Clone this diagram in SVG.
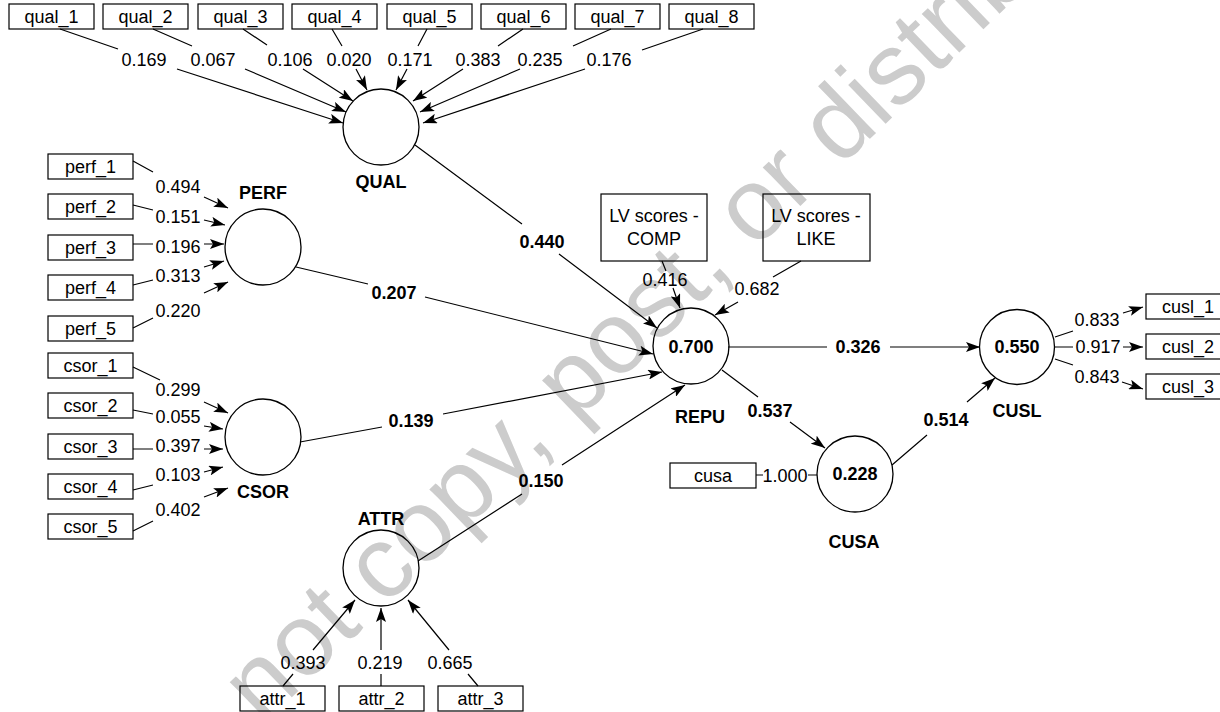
<svg xmlns="http://www.w3.org/2000/svg" width="1220" height="712" viewBox="0 0 1220 712">
<style>
.t{font-family:"Liberation Sans",Arial,Helvetica,sans-serif;font-size:18px;fill:#000;text-anchor:middle}
.b{font-weight:bold}
.box{fill:none;stroke:#000;stroke-width:1.2}
.lv{fill:none;stroke:#000;stroke-width:1.3}
.c{fill:none;stroke:#000;stroke-width:1.2}
.a{marker-end:url(#ah)}
.wm{font-family:"Liberation Sans",Arial,Helvetica,sans-serif;font-size:102px;fill:#cccccc}
</style>
<defs>
<marker id="ah" markerUnits="userSpaceOnUse" markerWidth="14" markerHeight="10" refX="14" refY="5" orient="auto" viewBox="0 0 14 10"><path d="M0,0 L14,5 L0,10 L3,5 z" fill="#000"/></marker>
</defs>
<rect width="1220" height="712" fill="#fff"/>
<text class="wm" transform="translate(148,836) rotate(-44)">Do not copy, post, or distribute</text>

<g id="connectors">
<path class="c a" d="M60,29 L118,49 M177,69 L343,123"/>
<path class="c a" d="M153,29 L192,46 M245,69 L346,112"/>
<path class="c a" d="M243,29 L267,45 M303,69 L353,101"/>
<path class="c a" d="M332,29 L342,46 M356,69 L367,90"/>
<path class="c a" d="M427,29 L418,46 M407,69 L396,90"/>
<path class="c a" d="M523,29 L498,46 M463,69 L413,101"/>
<path class="c a" d="M611,29 L573,46 M520,69 L420,112"/>
<path class="c a" d="M703,29 L642,50 M585,69 L423,123"/>

<path class="c a" d="M133,161 L153,172 M204,197 L228,208"/>
<path class="c a" d="M133,205 L153,210 M204,220 L225,225"/>
<path class="c a" d="M133,244 L153,244 M204,244 L224,244"/>
<path class="c a" d="M133,285 L153,280 M204,267 L224,261"/>
<path class="c a" d="M133,328 L153,318 M204,293 L228,282"/>

<path class="c a" d="M133,367 L160,380 M204,402 L228,413"/>
<path class="c a" d="M133,410 L153,414 M204,426 L223,429"/>
<path class="c a" d="M133,449 L153,449 M204,449 L223,449"/>
<path class="c a" d="M133,490 L153,485 M204,472 L223,467"/>
<path class="c a" d="M133,531 L153,521 M204,497 L228,488"/>

<path class="c a" d="M283,686 L293,674 M313,650 L355,600"/>
<path class="c a" d="M381,686 L381,674 M381,650 L381,608"/>
<path class="c a" d="M478,686 L468,674 M449,650 L408,600"/>

<path class="c a" d="M415,145 L522,224 M559,254 L657,328"/>
<path class="c a" d="M296,267 L368,284 M425,297 L653,354"/>
<path class="c a" d="M300,442 L382,427 M443,414 L662,372"/>
<path class="c a" d="M418,561 L522,494 M562,465 L685,385"/>

<path class="c a" d="M662,261 L666,271 M673,288 L680,308"/>
<path class="c a" d="M801,261 L773,277 M738,302 L715,315"/>

<path class="c a" d="M728,347 L827,347 M890,347 L980,347"/>
<path class="c a" d="M722,370 L758,397 M790,422 L825,448"/>
<path class="c a" d="M892,465 L927,435 M967,402 L995,378"/>
<path class="c" d="M756,475 L763,475 M808,475 L817,475"/>

<path class="c a" d="M1055,337 L1073,331 M1123,313 L1143,307"/>
<path class="c a" d="M1055,347 L1073,347 M1123,347 L1143,347"/>
<path class="c a" d="M1055,359 L1073,365 M1122,382 L1143,389"/>

<g class="t">
<text x="144" y="66">0.169</text>
<text x="213" y="66">0.067</text>
<text x="290" y="66">0.106</text>
<text x="349" y="66">0.020</text>
<text x="410" y="66">0.171</text>
<text x="478" y="66">0.383</text>
<text x="540" y="66">0.235</text>
<text x="609" y="66">0.176</text>

<text x="178" y="193">0.494</text>
<text x="178" y="223">0.151</text>
<text x="178" y="253">0.196</text>
<text x="178" y="282">0.313</text>
<text x="178" y="317">0.220</text>

<text x="178" y="396">0.299</text>
<text x="178" y="423">0.055</text>
<text x="178" y="452">0.397</text>
<text x="178" y="481">0.103</text>
<text x="178" y="516">0.402</text>

<text x="303" y="669">0.393</text>
<text x="380" y="669">0.219</text>
<text x="450" y="669">0.665</text>

<text x="665" y="286">0.416</text>
<text x="757" y="295">0.682</text>

<text x="1097" y="326">0.833</text>
<text x="1098" y="353">0.917</text>
<text x="1097" y="383">0.843</text>

<text x="785" y="482">1.000</text>
</g>
<g class="t b">
<text x="542" y="248">0.440</text>
<text x="394" y="299">0.207</text>
<text x="411" y="427">0.139</text>
<text x="541" y="487">0.150</text>
<text x="858" y="353">0.326</text>
<text x="770" y="417">0.537</text>
<text x="946" y="426">0.514</text>
</g>
</g>

<g id="QUAL"><circle class="lv" cx="381" cy="127" r="38"/><text class="t b" x="381" y="188">QUAL</text></g>
<g id="PERF"><circle class="lv" cx="263" cy="247" r="38"/><text class="t b" x="263" y="199">PERF</text></g>
<g id="CSOR"><circle class="lv" cx="263" cy="437" r="38"/><text class="t b" x="263" y="498">CSOR</text></g>
<g id="ATTR"><circle class="lv" cx="381" cy="568" r="38"/><text class="t b" x="381" y="525">ATTR</text></g>
<g id="REPU"><circle class="lv" cx="691" cy="346" r="38"/><text class="t b" x="691" y="353">0.700</text><text class="t b" x="700" y="423">REPU</text></g>
<g id="CUSL"><circle class="lv" cx="1017" cy="347" r="37.5"/><text class="t b" x="1017" y="353">0.550</text><text class="t b" x="1017" y="417">CUSL</text></g>
<g id="CUSA"><circle class="lv" cx="855" cy="474" r="38"/><text class="t b" x="855" y="480">0.228</text><text class="t b" x="854" y="548">CUSA</text></g>

<g id="qual_1"><rect class="box" x="9" y="4" width="85" height="25"/><text class="t" x="51.5" y="23">qual_1</text></g>
<g id="qual_2"><rect class="box" x="103" y="4" width="85" height="25"/><text class="t" x="145.5" y="23">qual_2</text></g>
<g id="qual_3"><rect class="box" x="198" y="4" width="85" height="25"/><text class="t" x="240.5" y="23">qual_3</text></g>
<g id="qual_4"><rect class="box" x="292" y="4" width="85" height="25"/><text class="t" x="334.5" y="23">qual_4</text></g>
<g id="qual_5"><rect class="box" x="387" y="4" width="85" height="25"/><text class="t" x="429.5" y="23">qual_5</text></g>
<g id="qual_6"><rect class="box" x="481" y="4" width="85" height="25"/><text class="t" x="523.5" y="23">qual_6</text></g>
<g id="qual_7"><rect class="box" x="575" y="4" width="85" height="25"/><text class="t" x="617.5" y="23">qual_7</text></g>
<g id="qual_8"><rect class="box" x="669" y="4" width="85" height="25"/><text class="t" x="711.5" y="23">qual_8</text></g>

<g id="perf_1"><rect class="box" x="48" y="154" width="85" height="25"/><text class="t" x="90.5" y="173">perf_1</text></g>
<g id="perf_2"><rect class="box" x="48" y="194" width="85" height="25"/><text class="t" x="90.5" y="213">perf_2</text></g>
<g id="perf_3"><rect class="box" x="48" y="235" width="85" height="25"/><text class="t" x="90.5" y="254">perf_3</text></g>
<g id="perf_4"><rect class="box" x="48" y="275" width="85" height="25"/><text class="t" x="90.5" y="294">perf_4</text></g>
<g id="perf_5"><rect class="box" x="48" y="316" width="85" height="25"/><text class="t" x="90.5" y="335">perf_5</text></g>

<g id="csor_1"><rect class="box" x="48" y="353" width="85" height="25"/><text class="t" x="90.5" y="372">csor_1</text></g>
<g id="csor_2"><rect class="box" x="48" y="393" width="85" height="25"/><text class="t" x="90.5" y="412">csor_2</text></g>
<g id="csor_3"><rect class="box" x="48" y="434" width="85" height="25"/><text class="t" x="90.5" y="453">csor_3</text></g>
<g id="csor_4"><rect class="box" x="48" y="474" width="85" height="25"/><text class="t" x="90.5" y="493">csor_4</text></g>
<g id="csor_5"><rect class="box" x="48" y="514" width="85" height="25"/><text class="t" x="90.5" y="533">csor_5</text></g>

<g id="attr_1"><rect class="box" x="240" y="686" width="85" height="25"/><text class="t" x="282.5" y="705">attr_1</text></g>
<g id="attr_2"><rect class="box" x="339" y="686" width="85" height="25"/><text class="t" x="381.5" y="705">attr_2</text></g>
<g id="attr_3"><rect class="box" x="438" y="686" width="85" height="25"/><text class="t" x="480.5" y="705">attr_3</text></g>

<g id="cusa"><rect class="box" x="670" y="463" width="86" height="25"/><text class="t" x="713" y="482">cusa</text></g>

<g id="cusl_1"><rect class="box" x="1146" y="294" width="85" height="25"/><text class="t" x="1188" y="313">cusl_1</text></g>
<g id="cusl_2"><rect class="box" x="1146" y="334" width="85" height="25"/><text class="t" x="1188" y="353">cusl_2</text></g>
<g id="cusl_3"><rect class="box" x="1146" y="374" width="85" height="25"/><text class="t" x="1188" y="393">cusl_3</text></g>

<g id="LV_COMP"><rect class="box" x="601" y="194" width="106" height="67"/><text class="t" x="654" y="222">LV scores -</text><text class="t" x="654" y="245">COMP</text></g>
<g id="LV_LIKE"><rect class="box" x="763" y="194" width="107" height="67"/><text class="t" x="816" y="222">LV scores -</text><text class="t" x="816" y="245">LIKE</text></g>
</svg>
